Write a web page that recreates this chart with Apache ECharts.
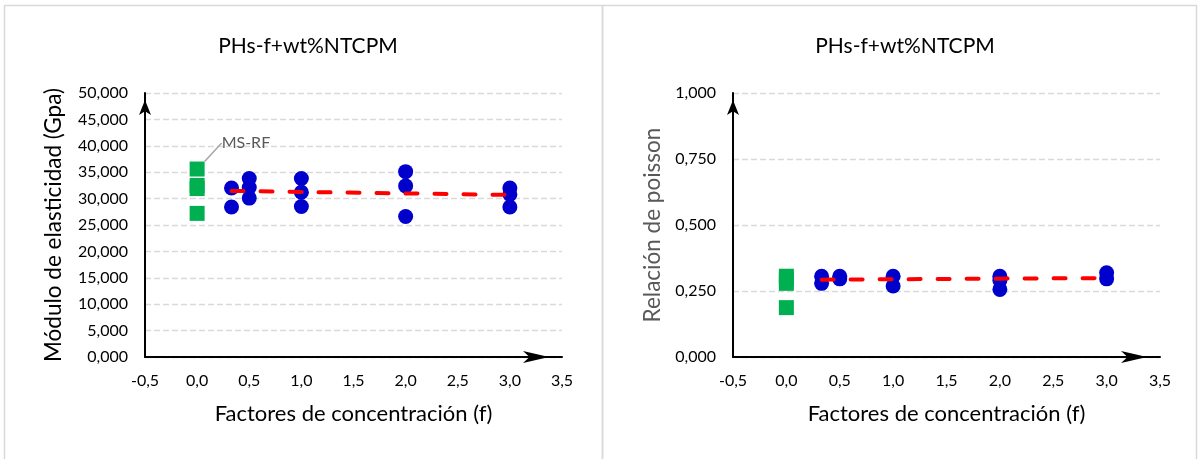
<!DOCTYPE html>
<html>
<head>
<meta charset="utf-8">
<script src="https://cdn.jsdelivr.net/npm/echarts@6/dist/echarts.min.js"></script>
<style>
html,body{margin:0;padding:0;background:#fff;}
#c{width:1198px;height:459px;}
</style>
</head>
<body>
<div id="c"></div>
<script>
// ---- data ----
const chartTitle = 'PHs-f+wt%NTCPM';
const xAxisName = 'Factores de concentración (f)';
const leftYName = 'Módulo de elasticidad (Gpa)';
const rightYName = 'Relación de poisson';
const refLabel = 'MS-RF';

// left chart: modulus (GPa)
const leftRefX = [0, 0, 0, 0];
const leftRefY = [35.6, 32.5, 31.9, 27.2];
const leftX = [0.33, 0.33, 0.5, 0.5, 0.5, 1, 1, 1, 2, 2, 2, 3, 3, 3];
const leftY = [32.0, 28.4, 33.8, 32.1, 30.1, 33.8, 31.2, 28.5, 35.1, 32.4, 26.6, 32.0, 30.8, 28.4];
const leftTrendX = [0.33, 3.0];
const leftTrendY = [31.45, 30.7];

// right chart: poisson ratio
const rightRefX = [0, 0, 0, 0];
const rightRefY = [0.306, 0.295, 0.279, 0.187];
const rightX = [0.33, 0.33, 0.5, 0.5, 1, 1, 2, 2, 2, 3, 3];
const rightY = [0.306, 0.279, 0.306, 0.296, 0.306, 0.269, 0.306, 0.29, 0.256, 0.319, 0.296];
const rightTrendX = [0.33, 3.0];
const rightTrendY = [0.293, 0.299];

// axis settings
const xMin = -0.5, xMax = 3.5, xStep = 0.5;
const leftYMin = 0, leftYMax = 50, leftYStep = 5;
const rightYMin = 0, rightYMax = 1, rightYStep = 0.25;

// ---- build ----
const FONT = 'Lato';
const pts = (xs, ys) => xs.map((x, i) => [x, ys[i]]);
const fmt = d => v => v.toFixed(d).replace('.', ',');

function xAxis(gi) {
  return {
    type: 'value', gridIndex: gi, min: xMin, max: xMax, interval: xStep,
    name: xAxisName, nameLocation: 'middle', nameGap: 46,
    nameTextStyle: {fontFamily: FONT, fontSize: 22, color: '#000'},
    axisLine: {show: true, onZero: false, symbol: ['none', 'arrow'], symbolSize: [9, 26], symbolOffset: [0, -13],
      lineStyle: {color: '#000', width: 2}},
    axisTick: {show: false},
    axisLabel: {fontFamily: FONT, fontSize: 16, color: '#000', margin: 16, formatter: fmt(1)},
    splitLine: {show: false}
  };
}
function yAxis(gi, min, max, step, dec, name, nameColor, gap) {
  return {
    type: 'value', gridIndex: gi, min: min, max: max, interval: step,
    name: name, nameLocation: 'middle', nameGap: gap,
    nameTextStyle: {fontFamily: FONT, fontSize: 22.5, color: nameColor},
    axisLine: {show: true, onZero: false, symbol: ['none', 'arrow'], symbolSize: [9, 15], symbolOffset: [0, -7],
      lineStyle: {color: '#000', width: 2}},
    axisTick: {show: false},
    axisLabel: {fontFamily: FONT, fontSize: 16, color: '#000', margin: 17, formatter: fmt(dec)},
    splitLine: {show: true, lineStyle: {color: '#d9d9d9', width: 1.3, type: [6, 3]}}
  };
}
function trend(gi, xs, ys) {
  return {
    type: 'line', xAxisIndex: gi, yAxisIndex: gi, data: pts(xs, ys), symbol: 'none', silent: true,
    lineStyle: {color: '#ff0000', width: 4, type: [12, 17], cap: 'round'}, z: 5
  };
}
function scatter(gi, data, color, symbol) {
  return {
    type: 'scatter', xAxisIndex: gi, yAxisIndex: gi, data: data, symbol: symbol, symbolSize: 15,
    itemStyle: {color: color, opacity: 1}, z: 3
  };
}

const leftRefData = pts(leftRefX, leftRefY).map((p, i) => i === 0 ? {
  value: p,
  label: {show: true, formatter: refLabel, position: 'right', distance: 5,
    fontFamily: FONT, fontSize: 16, color: '#595959'},
  labelLine: {show: true, lineStyle: {color: '#a6a6a6', width: 1.5}}
} : p);

const option = {
  animation: false,
  backgroundColor: '#fff',
  title: [
    {text: chartTitle, left: 303, top: 31, textAlign: 'center',
      textStyle: {fontFamily: FONT, fontSize: 21, fontWeight: 'normal', color: '#000'}},
    {text: chartTitle, left: 900, top: 31, textAlign: 'center',
      textStyle: {fontFamily: FONT, fontSize: 21, fontWeight: 'normal', color: '#000'}}
  ],
  grid: [
    {left: 145, top: 93, width: 417, height: 264},
    {left: 733, top: 93, width: 427, height: 264}
  ],
  xAxis: [xAxis(0), xAxis(1)],
  yAxis: [
    yAxis(0, leftYMin, leftYMax, leftYStep, 3, leftYName, '#000', 80),
    yAxis(1, rightYMin, rightYMax, rightYStep, 3, rightYName, '#595959', 69)
  ],
  graphic: [
    {type: 'rect', shape: {x: 4.5, y: 5.5, width: 598, height: 470}, style: {fill: 'none', stroke: '#d9d9d9', lineWidth: 1.5}, silent: true},
    {type: 'rect', shape: {x: 602.5, y: 5.5, width: 594, height: 470}, style: {fill: 'none', stroke: '#d9d9d9', lineWidth: 1.5}, silent: true}
  ],
  series: [
    Object.assign(scatter(0, leftRefData, '#00b050', 'rect'), {labelLayout: {dx: 12, dy: -26}}),
    scatter(0, pts(leftX, leftY), '#0000cc', 'circle'),
    trend(0, leftTrendX, leftTrendY),
    scatter(1, pts(rightRefX, rightRefY), '#00b050', 'rect'),
    scatter(1, pts(rightX, rightY), '#0000cc', 'circle'),
    trend(1, rightTrendX, rightTrendY)
  ]
};

const chart = echarts.init(document.getElementById('c'), null, {renderer: 'canvas'});
chart.setOption(option);
</script>
</body>
</html>
